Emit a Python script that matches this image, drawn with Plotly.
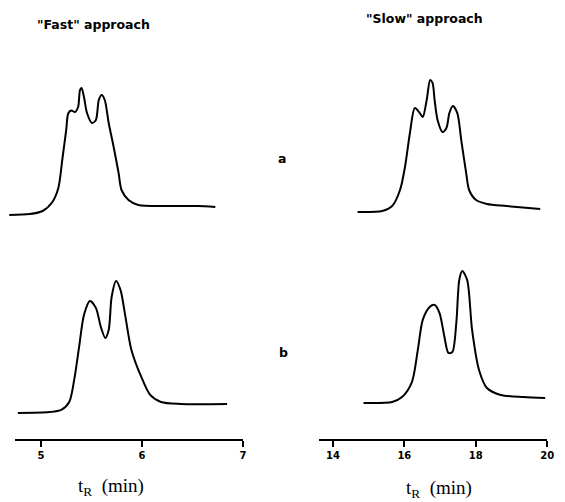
import plotly.graph_objects as go

# ---- data (retention time in min, detector signal in arbitrary units) ----
fast_a_t = [4.685, 4.888, 5.015, 5.112, 5.171, 5.210, 5.249, 5.269, 5.298, 5.337, 5.367, 5.386, 5.401,
            5.425, 5.455, 5.504, 5.543, 5.572, 5.601, 5.631, 5.670, 5.719, 5.768, 5.797, 5.866, 5.963,
            6.227, 6.550, 6.726]
fast_a_y = [3.3, 4.0, 6.0, 12.0, 21.3, 40.0, 60.0, 71.0, 73.0, 72.0, 75.3, 86.7, 88.0,
            82.0, 71.3, 64.7, 66.7, 80.0, 83.3, 80.0, 64.7, 48.7, 31.3, 20.0, 13.3, 10.0,
            9.3, 9.3, 8.7]

slow_a_t = [14.691, 15.382, 15.659, 15.880, 16.018, 16.157, 16.295, 16.433, 16.516, 16.627, 16.723,
            16.792, 16.848, 16.931, 17.069, 17.179, 17.262, 17.359, 17.484, 17.594, 17.732, 17.815,
            18.009, 18.313, 18.866, 19.806]
slow_a_y = [5.3, 6.0, 9.3, 20.0, 35.3, 58.0, 74.7, 71.3, 68.7, 80.0, 93.3,
            91.3, 80.0, 66.7, 58.7, 61.3, 71.3, 76.0, 71.3, 53.3, 31.3, 20.0,
            13.3, 10.7, 9.3, 7.3]

fast_b_t = [4.770, 5.083, 5.200, 5.279, 5.328, 5.377, 5.425, 5.484, 5.543, 5.592, 5.636, 5.670,
            5.699, 5.743, 5.787, 5.836, 5.895, 5.993, 6.081, 6.188, 6.384, 6.843]
fast_b_y = [4.7, 5.3, 6.7, 12.0, 26.7, 48.7, 70.0, 79.3, 74.7, 62.0, 54.7, 60.0,
            82.0, 92.7, 86.7, 68.7, 46.7, 28.7, 16.7, 12.0, 10.7, 10.7]

slow_b_t = [14.857, 15.659, 15.935, 16.212, 16.378, 16.516, 16.709, 16.848, 16.986, 17.124, 17.235,
            17.345, 17.456, 17.539, 17.622, 17.760, 17.898, 18.092, 18.313, 18.700, 19.336, 19.944]
slow_b_y = [11.3, 12.0, 15.3, 25.3, 46.7, 66.7, 75.3, 76.7, 71.3, 55.3, 44.7,
            45.3, 64.7, 93.3, 99.3, 93.3, 60.0, 33.3, 21.3, 16.7, 15.3, 14.7]

fast_ticks = [5, 6, 7]
slow_ticks = [14, 16, 18, 20]
fast_title = '"Fast" approach'
slow_title = '"Slow" approach'
row_labels = ["a", "b"]
x_label = "t<sub>R</sub>  (min)"

W, H = 565, 502
line = dict(color="black", width=2, shape="spline", smoothing=0.8)

fig = go.Figure()
fig.add_trace(go.Scatter(x=fast_b_t, y=fast_b_y, mode="lines", line=line, xaxis="x", yaxis="y", hoverinfo="skip"))
fig.add_trace(go.Scatter(x=slow_b_t, y=slow_b_y, mode="lines", line=line, xaxis="x2", yaxis="y", hoverinfo="skip"))
fig.add_trace(go.Scatter(x=fast_a_t, y=fast_a_y, mode="lines", line=line, xaxis="x3", yaxis="y3", hoverinfo="skip"))
fig.add_trace(go.Scatter(x=slow_a_t, y=slow_a_y, mode="lines", line=line, xaxis="x4", yaxis="y3", hoverinfo="skip"))

def px(xp):
    return xp / W

def py(yp):
    return 1 - yp / H

vis_axis = dict(showgrid=False, zeroline=False, showline=True, linecolor="black", linewidth=1.5,
                ticks="outside", ticklen=6, tickwidth=1.5, tickcolor="black",
                tickfont=dict(family="DejaVu Sans", size=10, color="black", weight="bold"),
                anchor="y", side="bottom", fixedrange=True)
hidden = dict(visible=False, showgrid=False, zeroline=False, fixedrange=True)

fig.update_layout(
    width=W, height=H, margin=dict(l=0, r=0, t=0, b=0),
    paper_bgcolor="white", plot_bgcolor="white", showlegend=False,
    xaxis=dict(**vis_axis, domain=[px(15), px(246)], range=[4.74, 7],
               tickmode="array", tickvals=fast_ticks, ticktext=[str(v) for v in fast_ticks]),
    xaxis2=dict(**vis_axis, domain=[px(323), px(554)], range=[13.61, 20],
                tickmode="array", tickvals=slow_ticks, ticktext=[str(v) for v in slow_ticks]),
    yaxis=dict(**hidden, domain=[py(439), py(250)], range=[-12.67, 113.3], anchor="x"),
    xaxis3=dict(**hidden, domain=[0, 0.5], range=[4.5932, 7.357], anchor="y3"),
    xaxis4=dict(**hidden, domain=[0.5, 1], range=[12.490, 20.304], anchor="y3"),
    yaxis3=dict(**hidden, domain=[py(250), py(40)], range=[-20, 120], anchor="x3"),
)

ann_font = dict(family="DejaVu Sans", size=12.5, color="black", weight="bold")
def ann(text, xp, yp, font):
    fig.add_annotation(text=text, x=px(xp), y=py(yp), xref="paper", yref="paper",
                       xanchor="center", yanchor="middle", showarrow=False, font=font)

ann(fast_title, 95, 25, ann_font)
ann(slow_title, 430, 19, ann_font)
ann(row_labels[0], 286, 159, ann_font)
ann(row_labels[1], 287, 352, ann_font)
lab_font = dict(family="Liberation Serif", size=19, color="black")
ann(x_label, 112, 487, lab_font)
ann(x_label, 445, 489, lab_font)

fig.write_html("out.html")
